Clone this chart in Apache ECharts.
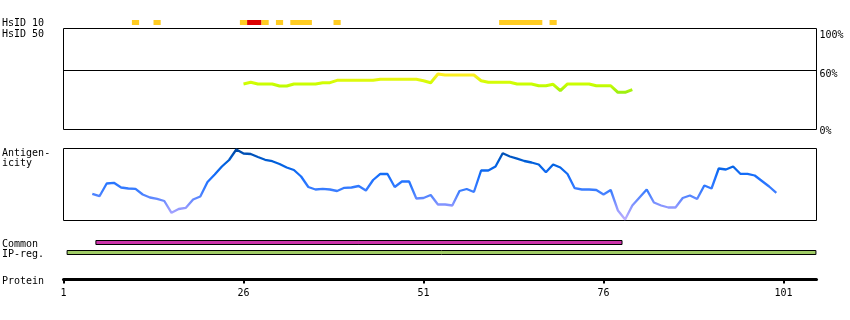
<!DOCTYPE html>
<html><head><meta charset="utf-8">
<script src="https://cdn.jsdelivr.net/npm/echarts@6/dist/echarts.min.js"></script>
<style>html,body{margin:0;padding:0;background:#fff}#c{width:850px;height:320px}</style>
</head><body><div id="c"></div>
<script>
// ---------- data ----------
const proteinMin = 1;
const proteinMax = 105.58;
const proteinTicks = [1, 26, 51, 76, 101];

// HsID 10 segments (residue ranges) and level (0 = partial / yellow, 1 = high / red)
const hsidStart = [10.5, 13.5, 25.5, 26.5, 28.5, 30.5, 32.5, 38.5, 61.5, 68.5];
const hsidEnd   = [11.5, 14.5, 26.5, 28.5, 29.5, 31.5, 35.5, 39.5, 67.5, 69.5];
const hsidLevel = [0, 0, 0, 1, 0, 0, 0, 0, 0, 0];

// HsID 50 identity (%) per residue
const identityResidues = [26,27,28,29,30,31,32,33,34,35,36,37,38,39,40,41,42,43,44,45,46,47,48,49,50,
  51,52,53,54,55,56,57,58,59,60,61,62,63,64,65,66,67,68,69,70,71,72,73,74,75,76,77,78,79,80];
const identityValues = [46.3,48.0,46.3,46.3,46.3,44.2,44.2,46.3,46.3,46.3,46.3,47.6,47.6,50.0,50.0,50.0,50.0,50.0,50.0,51.1,51.1,51.1,51.1,51.1,51.0,
  49.6,47.6,56.4,55.4,55.4,55.4,55.4,55.4,49.6,48.0,48.0,48.0,48.0,46.3,46.3,46.3,44.5,44.5,46.0,39.5,46.3,46.3,46.3,46.3,44.5,44.5,44.5,37.8,37.8,40.5];

// Antigenicity per residue (relative score)
const antigenResidues = [5,6,7,8,9,10,11,12,13,14,15,16,17,18,19,20,21,22,23,24,25,26,27,28,29,30,
  31,32,33,34,35,36,37,38,39,40,41,42,43,44,45,46,47,48,49,50,51,52,53,54,55,56,57,58,59,60,
  61,62,63,64,65,66,67,68,69,70,71,72,73,74,75,76,77,78,79,80,81,82,83,84,85,86,87,88,89,90,
  91,92,93,94,95,96,97,98,99,100];
const antigenValues = [26.7,24.3,37,37.7,33,32,31.7,26,23,21.7,19.5,7.7,11.5,12.7,21,24,38.5,46,54,60.5,71,67,66.5,63.5,60.7,59.3,
  56.5,53,50.5,44,33.5,31,31.7,31,29.5,32.7,33,34.5,30,40.5,46.7,46.5,33.5,39,39,22,22.5,25.5,16,16,15,29.5,31.5,28.5,50,50,
  54,67.2,64,61.8,59.5,58,56,48.3,56,53,46.5,32.3,31,31,30.5,26,30.5,10,1,15,23,31,18,15,13,13,22.5,25,21.5,35,
  32,52,51,54,46.7,46.7,45,39.5,34,27.7];

// Regions
const regionNames = ['Common', 'IP-reg.'];
const regionStart = [5.5, 1.5];
const regionEnd = [78.57, 105.5];

// ---------- chart ----------
const FONT = '"DejaVu Sans Mono", monospace';
const L = 63.5, R = 33.5;
const chart = echarts.init(document.getElementById('c'), null, {renderer: 'canvas'});

const xBase = (gi) => ({
  type: 'value', gridIndex: gi, min: proteinMin, max: proteinMax, show: false
});

const option = {
  animation: false,
  backgroundColor: '#fff',
  grid: [
    {left: L, right: R, top: 20, height: 5, show: false},
    {left: L, right: R, top: 28.5, height: 101, show: true, borderColor: '#000', borderWidth: 1, backgroundColor: 'transparent'},
    {left: L, right: R, top: 148.5, height: 72, show: true, borderColor: '#000', borderWidth: 1, backgroundColor: 'transparent'},
    {left: L, right: R, top: 237.5, height: 20, show: false},
    {left: L, right: R, top: 270.5, height: 9, show: false}
  ],
  xAxis: [
    xBase(0), xBase(1), xBase(2), xBase(3),
    {
      type: 'value', gridIndex: 4, min: proteinMin, max: proteinMax, interval: 25,
      axisLine: {show: true, lineStyle: {color: '#000', width: 3}},
      axisTick: {show: true, length: 4, lineStyle: {color: '#000', width: 2}},
      splitLine: {show: false},
      axisLabel: {
        show: true, margin: 9, color: '#000', fontFamily: FONT, fontSize: 10,
        showMaxLabel: false,
        formatter: v => proteinTicks.indexOf(Math.round(v)) >= 0 && Math.abs(v - Math.round(v)) < 1e-6 ? String(Math.round(v)) : ''
      }
    }
  ],
  yAxis: [
    {type: 'value', gridIndex: 0, min: 0, max: 1, show: false},
    {
      type: 'value', gridIndex: 1, min: 0, max: 102.7, interval: 20, position: 'right',
      axisLine: {show: false}, axisTick: {show: false}, splitLine: {show: false},
      axisLabel: {
        show: true, margin: 3, color: '#000', fontFamily: FONT, fontSize: 10,
        formatter: v => v === 100 ? '{a|100%}' : v === 60 ? '{a|60%}' : v === 0 ? '{b|0%}' : '',
        rich: {
          a: {fontFamily: FONT, fontSize: 10, color: '#000', padding: [8, 0, 0, 0]},
          b: {fontFamily: FONT, fontSize: 10, color: '#000', padding: [4, 0, 0, 0]}
        }
      }
    },
    {type: 'value', gridIndex: 2, min: 0, max: 72, show: false},
    {type: 'category', gridIndex: 3, data: regionNames, inverse: true, show: false},
    {type: 'value', gridIndex: 4, min: 0, max: 1, show: false}
  ],
  visualMap: [
    {
      type: 'continuous', show: false, seriesIndex: 1, dimension: 1,
      min: 37, max: 56,
      inRange: {color: ['#99ee11', '#ccff00', '#ffee22']}
    },
    {
      type: 'continuous', show: false, seriesIndex: 2, dimension: 1,
      min: 0, max: 72,
      inRange: {color: ['#c0b0ff', '#8a96ff', '#3d7eff', '#1a70ff', '#0060dd', '#00479f']}
    }
  ],
  series: [
    {
      type: 'custom', xAxisIndex: 0, yAxisIndex: 0,
      data: hsidStart.map((s, i) => [s, hsidEnd[i], hsidLevel[i]]),
      encode: {x: [0, 1]},
      renderItem: (params, api) => {
        const a = api.coord([api.value(0), 1]);
        const b = api.coord([api.value(1), 0]);
        return {type: 'rect', shape: {x: a[0], y: a[1], width: b[0] - a[0], height: b[1] - a[1]},
          style: {fill: api.value(2) ? '#dd0000' : '#ffcc22'}};
      }
    },
    {
      type: 'line', xAxisIndex: 1, yAxisIndex: 1,
      data: identityResidues.map((r, i) => [r, identityValues[i]]),
      showSymbol: false, symbol: 'none',
      lineStyle: {width: 3},
      markLine: {
        silent: true, symbol: 'none', label: {show: false},
        lineStyle: {color: '#000', width: 1, type: 'solid'},
        data: [{yAxis: 60}]
      }
    },
    {
      type: 'line', xAxisIndex: 2, yAxisIndex: 2,
      data: antigenResidues.map((r, i) => [r, antigenValues[i]]),
      showSymbol: false, symbol: 'none',
      lineStyle: {width: 2.3}
    },
    {
      type: 'custom', xAxisIndex: 3, yAxisIndex: 3,
      data: regionNames.map((n, i) => [regionStart[i], regionEnd[i], i]),
      encode: {x: [0, 1], y: 2},
      renderItem: (params, api) => {
        const a = api.coord([api.value(0), api.value(2)]);
        const b = api.coord([api.value(1), api.value(2)]);
        const h = api.size([0, 1])[1] * 0.4;
        return {type: 'rect', shape: {x: a[0], y: a[1] - h / 2, width: b[0] - a[0], height: h},
          style: {fill: api.value(2) === 0 ? '#cc33aa' : '#a0cc66', stroke: '#000', lineWidth: 1}};
      }
    }
  ],
  graphic: [
    {type: 'text', left: 2, top: 18.5, style: {text: 'HsID 10', font: '10px ' + FONT, fill: '#000'}},
    {type: 'text', left: 2, top: 29.5, style: {text: 'HsID 50', font: '10px ' + FONT, fill: '#000'}},
    {type: 'text', left: 2, top: 148.5, style: {text: 'Antigen-\nicity', font: '10px ' + FONT, fill: '#000', lineHeight: 10}},
    {type: 'text', left: 2, top: 239, style: {text: 'Common', font: '10px ' + FONT, fill: '#000'}},
    {type: 'text', left: 2, top: 249.5, style: {text: 'IP-reg.', font: '10px ' + FONT, fill: '#000'}},
    {type: 'text', left: 2, top: 276.5, style: {text: 'Protein', font: '10px ' + FONT, fill: '#000'}}
  ]
};
chart.setOption(option);
</script>
</body></html>
